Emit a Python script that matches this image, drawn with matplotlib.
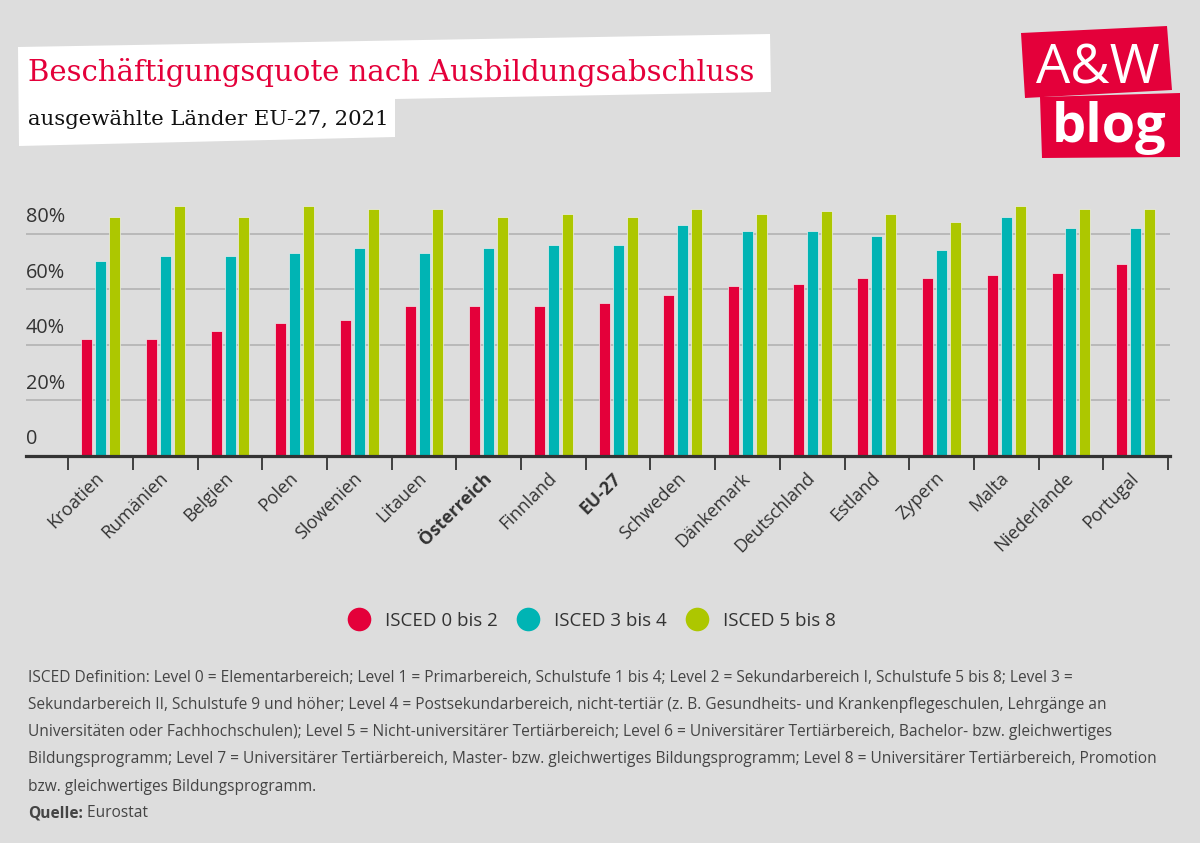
import matplotlib
matplotlib.use("Agg")
import matplotlib.pyplot as plt
from matplotlib.patches import Polygon
from matplotlib.lines import Line2D
import numpy as np

# ---------------- data ----------------
countries = ["Kroatien", "Rumänien", "Belgien", "Polen", "Slowenien", "Litauen",
             "Österreich", "Finnland", "EU-27", "Schweden", "Dänkemark", "Deutschland",
             "Estland", "Zypern", "Malta", "Niederlande", "Portugal"]
isced_0_2 = [42, 42, 45, 48, 49, 54, 54, 54, 55, 58, 61, 62, 64, 64, 65, 66, 69]
isced_3_4 = [70, 72, 72, 73, 75, 73, 75, 76, 76, 83, 81, 81, 79, 74, 86, 82, 82]
isced_5_8 = [86, 90, 86, 90, 89, 89, 86, 87, 86, 89, 87, 88, 87, 84, 90, 89, 89]
series_names = ["ISCED 0 bis 2", "ISCED 3 bis 4", "ISCED 5 bis 8"]
y_ticks = [0, 20, 40, 60, 80]
y_tick_labels = ["0", "20%", "40%", "60%", "80%"]
bold_labels = ["Österreich", "EU-27"]

title = "Beschäftigungsquote nach Ausbildungsabschluss"
subtitle = "ausgewählte Länder EU-27, 2021"
footnote_lines = [
    "ISCED Definition: Level 0 = Elementarbereich; Level 1 = Primarbereich, Schulstufe 1 bis 4; Level 2 = Sekundarbereich I, Schulstufe 5 bis 8; Level 3 =",
    "Sekundarbereich II, Schulstufe 9 und höher; Level 4 = Postsekundarbereich, nicht-tertiär (z. B. Gesundheits- und Krankenpflegeschulen, Lehrgänge an",
    "Universitäten oder Fachhochschulen); Level 5 = Nicht-universitärer Tertiärbereich; Level 6 = Universitärer Tertiärbereich, Bachelor- bzw. gleichwertiges",
    "Bildungsprogramm; Level 7 = Universitärer Tertiärbereich, Master- bzw. gleichwertiges Bildungsprogramm; Level 8 = Universitärer Tertiärbereich, Promotion",
    "bzw. gleichwertiges Bildungsprogramm.",
]
source_label = "Quelle:"
source_text = " Eurostat"

# ---------------- style ----------------
BG = "#dddddd"
RED = "#e4003a"
CYAN = "#00b4b4"
GREEN = "#adc700"
colors = [RED, CYAN, GREEN]
TXT = "#333333"

W, H = 1200, 843
fig = plt.figure(figsize=(W / 100, H / 100), dpi=100, facecolor=BG)

def fx(x):
    return x / W

def fy(y):
    return 1 - y / H

# ---------------- header (white tilted box) ----------------
box = Polygon([(fx(18), fy(47)), (fx(770), fy(34)), (fx(771), fy(92)),
               (fx(395), fy(99)), (fx(395), fy(137)), (fx(19), fy(146))],
              closed=True, transform=fig.transFigure, facecolor="white",
              edgecolor="none", zorder=1)
fig.patches.append(box)
fig.text(fx(28), fy(81), title, color=RED, family="DejaVu Serif", fontsize=21,
         va="baseline", ha="left", zorder=2)
fig.text(fx(28), fy(125), subtitle, color="#111111", family="DejaVu Serif", fontsize=15.3,
         va="baseline", ha="left", zorder=2)

# ---------------- logo ----------------
logo1 = Polygon([(fx(1021), fy(33)), (fx(1167), fy(26)), (fx(1172), fy(90)), (fx(1025), fy(98))],
                closed=True, transform=fig.transFigure, facecolor=RED, edgecolor="none", zorder=1)
logo2 = Polygon([(fx(1040), fy(97)), (fx(1180), fy(93)), (fx(1180), fy(157)), (fx(1042), fy(158))],
                closed=True, transform=fig.transFigure, facecolor=RED, edgecolor="none", zorder=1)
fig.patches.extend([logo1, logo2])
fig.text(fx(1098), fy(83), "A&W", color="white", family="Open Sans", fontsize=39,
         ha="center", va="baseline", zorder=2)
fig.text(fx(1109), fy(142), "blog", color="white", family="Open Sans", fontweight="bold",
         fontsize=39, ha="center", va="baseline", zorder=2)

# ---------------- axes ----------------
ax_left, ax_right = 26, 1170
y0_px, y100_px = 456, 178
ax = fig.add_axes([fx(ax_left), fy(y0_px), (ax_right - ax_left) / W, (y0_px - y100_px) / H])
ax.set_facecolor(BG)
n = len(countries)
cat_w = (1168 - 68.3) / n
xmin = -0.5 - (68.3 - ax_left) / cat_w
xmax = -0.5 + (ax_right - 68.3) / cat_w
ax.set_xlim(xmin, xmax)
ax.set_ylim(0, 100)

x = np.arange(n)
bw = 0.17
offsets = [-0.215, 0.0, 0.215]
for vals, off, c, name in zip([isced_0_2, isced_3_4, isced_5_8], offsets, colors, series_names):
    ax.bar(x + off, vals, width=bw, color=c, edgecolor="#eeeeee", linewidth=0.5,
           label=name, zorder=3)

for s in ["top", "right", "left"]:
    ax.spines[s].set_visible(False)
ax.spines["bottom"].set_color(TXT)
ax.spines["bottom"].set_linewidth(2.3)
ax.spines["bottom"].set_zorder(4)

# gridlines
ax.set_yticks(y_ticks)
ax.tick_params(axis="y", length=0, labelleft=False)
for t in y_ticks[1:]:
    ax.axhline(t, color="#b9b9b9", linewidth=1.4, zorder=1)
for t, lab in zip(y_ticks, y_tick_labels):
    ax.text(xmin, t + 2.4, lab, color=TXT, family="Open Sans", fontsize=14.3,
            ha="left", va="bottom", zorder=2)

# x ticks: major at categories (labels), minor at boundaries (tick marks)
ax.set_xticks(x)
ax.set_xticklabels(countries, rotation=45, ha="right", va="center",
                   rotation_mode="anchor", family="Open Sans", fontsize=13, color=TXT)
ax.tick_params(axis="x", which="major", length=0, pad=14)
ax.set_xticks(np.arange(n + 1) - 0.5, minor=True)
ax.tick_params(axis="x", which="minor", length=10, width=1.3, color=TXT, direction="out")
for lab in ax.get_xticklabels():
    if lab.get_text() in bold_labels:
        lab.set_fontweight("bold")

# ---------------- legend ----------------
handles = [Line2D([0], [0], marker="o", linestyle="none", markersize=17,
                  markerfacecolor=c, markeredgecolor="none") for c in colors]
leg = fig.legend(handles, series_names, loc="center", bbox_to_anchor=(fx(588), fy(621)),
                 ncol=3, frameon=False, handletextpad=0.4, columnspacing=0.6,
                 prop={"family": "Open Sans", "size": 13.5})
for t in leg.get_texts():
    t.set_color(TXT)

# ---------------- footnote ----------------
FS = 11.2
line_y = [676, 703, 730, 757, 785]
for yy, line in zip(line_y, footnote_lines):
    fig.text(fx(28), fy(yy), line, color="#444444", family="Open Sans", fontsize=FS,
             ha="left", va="center_baseline")
q = fig.text(fx(28), fy(811), source_label, color="#444444", family="Open Sans",
             fontsize=FS, fontweight="bold", ha="left", va="center_baseline")
plt.annotate(source_text, xy=(1, 0), xycoords=q, color="#444444", family="Open Sans",
             fontsize=FS, ha="left", va="bottom")

fig.savefig("out.png", dpi=100, facecolor=BG)
